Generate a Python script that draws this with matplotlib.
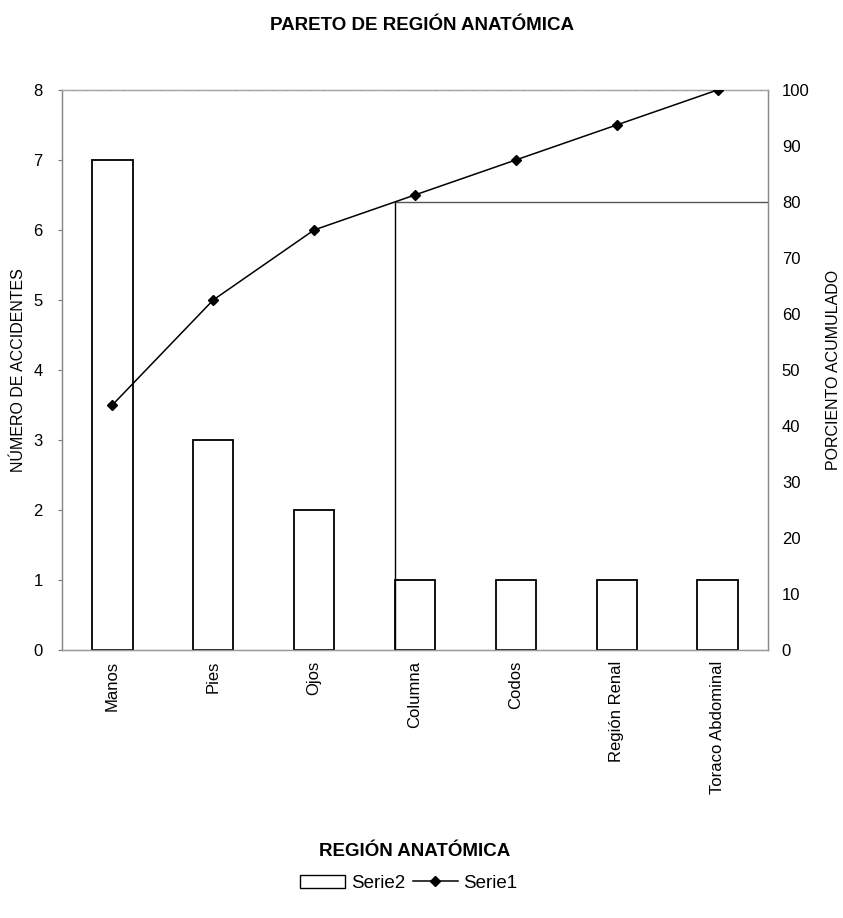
import numpy as np
import matplotlib.pyplot as plt
from matplotlib.lines import Line2D
from matplotlib.patches import Patch

# ── data ──────────────────────────────────────────────
regiones = ["Manos", "Pies", "Ojos", "Columna", "Codos",
            "Región Renal", "Toraco Abdominal"]
accidentes = [7, 3, 2, 1, 1, 1, 1]
limite_pct = 80

plt.rcParams["font.family"] = ["Liberation Sans", "DejaVu Sans"]

x = np.arange(len(regiones))
acum = np.cumsum(accidentes) / np.sum(accidentes) * 100

fig = plt.figure(figsize=(8.43, 9.18), dpi=100, facecolor="white")
ax = fig.add_axes([0.0735, 0.292, 0.8375, 0.610])
ax2 = ax.twinx()

# bars (Serie2)
ax.bar(x, accidentes, width=0.4, color="white", edgecolor="black",
       linewidth=1.3, zorder=2)
ax.set_xlim(-0.5, len(regiones) - 0.5)
ax.set_ylim(0, 8)
ax.set_yticks(range(0, 9))
ax.set_xticks(x)
ax.set_xticklabels(regiones, rotation=90, fontsize=12)
ax.tick_params(axis="y", labelsize=12, length=3, color="#777777", pad=11)
ax.tick_params(axis="x", length=0, pad=8)
ax.set_ylabel("NÚMERO DE ACCIDENTES", fontsize=11.5, labelpad=5)
ax.set_xlabel("REGIÓN ANATÓMICA", fontsize=13.5, fontweight="bold",
              labelpad=35)

# cumulative line (Serie1)
ax2.plot(x, acum, color="black", linewidth=1.1, marker="D",
         markersize=5.5, zorder=4)
ax2.set_ylim(0, 100)
ax2.set_yticks(range(0, 101, 10))
ax2.tick_params(axis="y", labelsize=12, length=0, pad=10)
ax2.set_ylabel("PORCIENTO ACUMULADO", fontsize=11.5, labelpad=12)

# 80 % cut-off lines
x80 = np.interp(limite_pct, acum, x)
ax2.plot([x80, x80], [0, limite_pct], color="black", linewidth=1.0)
ax2.plot([x80, len(regiones) - 0.5], [limite_pct, limite_pct],
         color="#555555", linewidth=1.0)

for a in (ax, ax2):
    for s in a.spines.values():
        s.set_color("#888888")
        s.set_linewidth(0.9)
ax2.spines["top"].set_color("#aaaaaa")
ax2.spines["top"].set_linestyle((0, (8, 2)))
ax2.spines["bottom"].set_color("#999999")

fig.suptitle("PARETO DE REGIÓN ANATÓMICA", fontsize=13.5, fontweight="bold",
             y=0.982)

handles = [Patch(facecolor="white", edgecolor="black", linewidth=1.0),
           Line2D([], [], color="black", marker="D", markersize=5,
                  linewidth=1.1)]
fig.legend(handles, ["Serie2", "Serie1"], loc="center", ncol=2,
           bbox_to_anchor=(0.485, 0.038), frameon=False, fontsize=13.5,
           handlelength=2.4, handletextpad=0.3, columnspacing=0.4)

plt.savefig("out.png", dpi=100, facecolor="white")
